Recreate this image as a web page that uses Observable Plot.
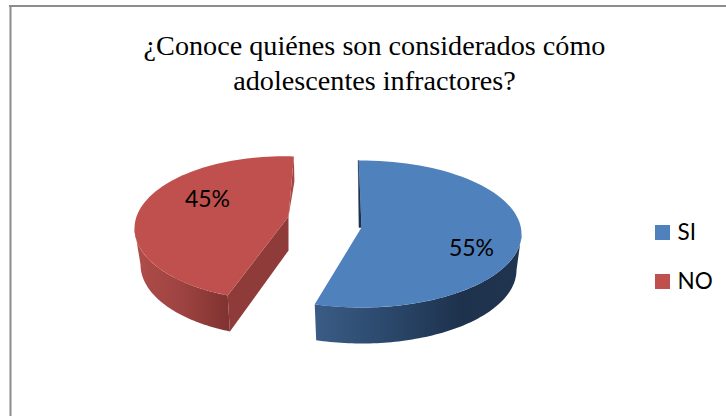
<!DOCTYPE html>
<html lang="es">
<head>
<meta charset="utf-8">
<script src="https://cdn.jsdelivr.net/npm/d3@7"></script>
<script src="https://cdn.jsdelivr.net/npm/@observablehq/plot@0.6"></script>
<style>
html,body{margin:0;padding:0;background:#fff;overflow:hidden}
svg{display:block}
</style>
</head>
<body>
<div id="chart"></div>
<script>
// Data
const categories = ["SI", "NO"];
const shares = [55, 45];
const titleLines = ["¿Conoce quiénes son considerados cómo", "adolescentes infractores?"];

// Drawing styles and projection of the exploded 3D pie
const faceColors = ["#4f81bd", "#c0504d"];
const depth = 36;
const W = 726, H = 416;
const rad = d => d * Math.PI / 180;

const projections = [
  {apex:[361,227], c:[361,233.5], a:160, b:73.5, start:-1, label:[471,248]},
  {apex:[288,216], c:[283,228],   a:149, b:72.2, start:202,  label:[207,199]}
];

const arc = (p, t0, t1, dy = 0, shrink = 0) => {
  const pts = [], n = 80;
  for (let i = 0; i <= n; i++) {
    const t = rad(t0 + (t1 - t0) * i / n);
    pts.push({x: p.c[0] + (p.a - shrink) * Math.sin(t), y: p.c[1] - p.b * Math.cos(t) + dy});
  }
  return pts;
};
const pt = ([x, y]) => ({x, y});
const spans = shares.map(v => v / 100 * 360);
const ends = projections.map((p, i) => p.start + spans[i]);

// blue
const blueP = projections[0];
const blueFace = [pt(blueP.apex), ...arc(blueP, blueP.start, ends[0])];
const blueSide = [...arc(blueP, 90, ends[0]), ...arc(blueP, ends[0], 90, depth, 5)];
const s0 = arc(blueP, blueP.start, blueP.start)[0];
const blueSliver = [s0, pt(blueP.apex), {x: blueP.apex[0] - 2.5, y: blueP.apex[1]}, {x: s0.x - 0.5, y: s0.y}];

// red
const redP = projections[1];
const redStart = arc(redP, redP.start, redP.start)[0];
const redLower = arc(redP, redP.start, redP.start, depth, 6)[0];
const redEnd = arc(redP, ends[1], ends[1])[0];
const redFace = [pt(redP.apex), ...arc(redP, redP.start, ends[1])];
const redSide = [...arc(redP, redP.start, 270), ...arc(redP, 270, redP.start, depth, 6)];
const redWall = [redStart, pt(redP.apex), {x: redP.apex[0], y: redP.apex[1] + depth - 2}, redLower];
const redSliver = [redEnd, {x: redEnd.x + 0.5, y: redEnd.y + 25}, pt(redP.apex)];

const gradient = (id, x1, x2, stops) => () => {
  const defs = d3.create("svg:defs");
  const g = defs.append("linearGradient").attr("id", id).attr("gradientUnits", "userSpaceOnUse")
    .attr("x1", x1).attr("x2", x2).attr("y1", 0).attr("y2", 0);
  stops.forEach(([o, c]) => g.append("stop").attr("offset", o).attr("stop-color", c));
  return defs.node();
};

const legend = categories.map((name, i) => ({name, color: faceColors[i], row: i}));
const labels = categories.map((name, i) => ({text: shares[i] + "%", x: projections[i].label[0], y: projections[i].label[1]}));
const legendY = [232.5, 281.5];

const chart = Plot.plot({
  width: W, height: H,
  margin: 0,
  x: {domain: [0, W], range: [0, W], axis: null},
  y: {domain: [0, H], range: [0, H], axis: null},
  style: {background: "#fff"},
  marks: [
    gradient("blueSideG", 315, 521, [[0, "#3a5c84"], [0.35, "#2b486c"], [0.7, "#1e324d"], [1, "#20344f"]]),
    gradient("redSideG", 134, 230, [[0, "#b04d4a"], [0.5, "#9d4341"], [1, "#7f3230"]]),
    Plot.ruleX([10], {y1: 5, y2: H, stroke: "#8c8c8c", strokeWidth: 2}),
    Plot.ruleY([5.5], {x1: 9, x2: W, stroke: "#8c8c8c", strokeWidth: 2}),
    Plot.line(blueSliver, {x: "x", y: "y", fill: "#1f324c", stroke: "#1f324c", strokeWidth: 0.5, curve: "linear"}),
    Plot.line(blueSide, {x: "x", y: "y", fill: "url(#blueSideG)", stroke: "none", curve: "linear"}),
    Plot.line(blueFace, {x: "x", y: "y", fill: faceColors[0], stroke: "none", curve: "linear"}),
    Plot.line(redSliver, {x: "x", y: "y", fill: "#a5453f", stroke: "none", curve: "linear"}),
    Plot.line(redSide, {x: "x", y: "y", fill: "url(#redSideG)", stroke: "none", curve: "linear"}),
    Plot.line(redWall, {x: "x", y: "y", fill: "#8f3b39", stroke: "none", curve: "linear"}),
    Plot.line(redFace, {x: "x", y: "y", fill: faceColors[1], stroke: "none", curve: "linear"}),
    Plot.text(labels, {x: "x", y: "y", text: "text", fill: "#000", fontSize: 23, fontFamily: "Lato", textAnchor: "middle", lineAnchor: "middle"}),
    Plot.text(titleLines, {x: 374, y: (d, i) => 57 + i * 35, text: d => d, fill: "#000", fontSize: 28.2, fontFamily: "Liberation Serif", textAnchor: "middle", lineAnchor: "bottom", dy: -3}),
    Plot.rect(legend, {x1: 655, x2: 670, y1: d => legendY[d.row] - 7.5, y2: d => legendY[d.row] + 7.5, fill: "color"}),
    Plot.text(legend, {x: 677, y: d => legendY[d.row], text: "name", fill: "#000", fontSize: 22.5, fontFamily: "Lato", textAnchor: "start", lineAnchor: "middle"})
  ]
});
document.getElementById("chart").append(chart);
</script>
</body>
</html>
